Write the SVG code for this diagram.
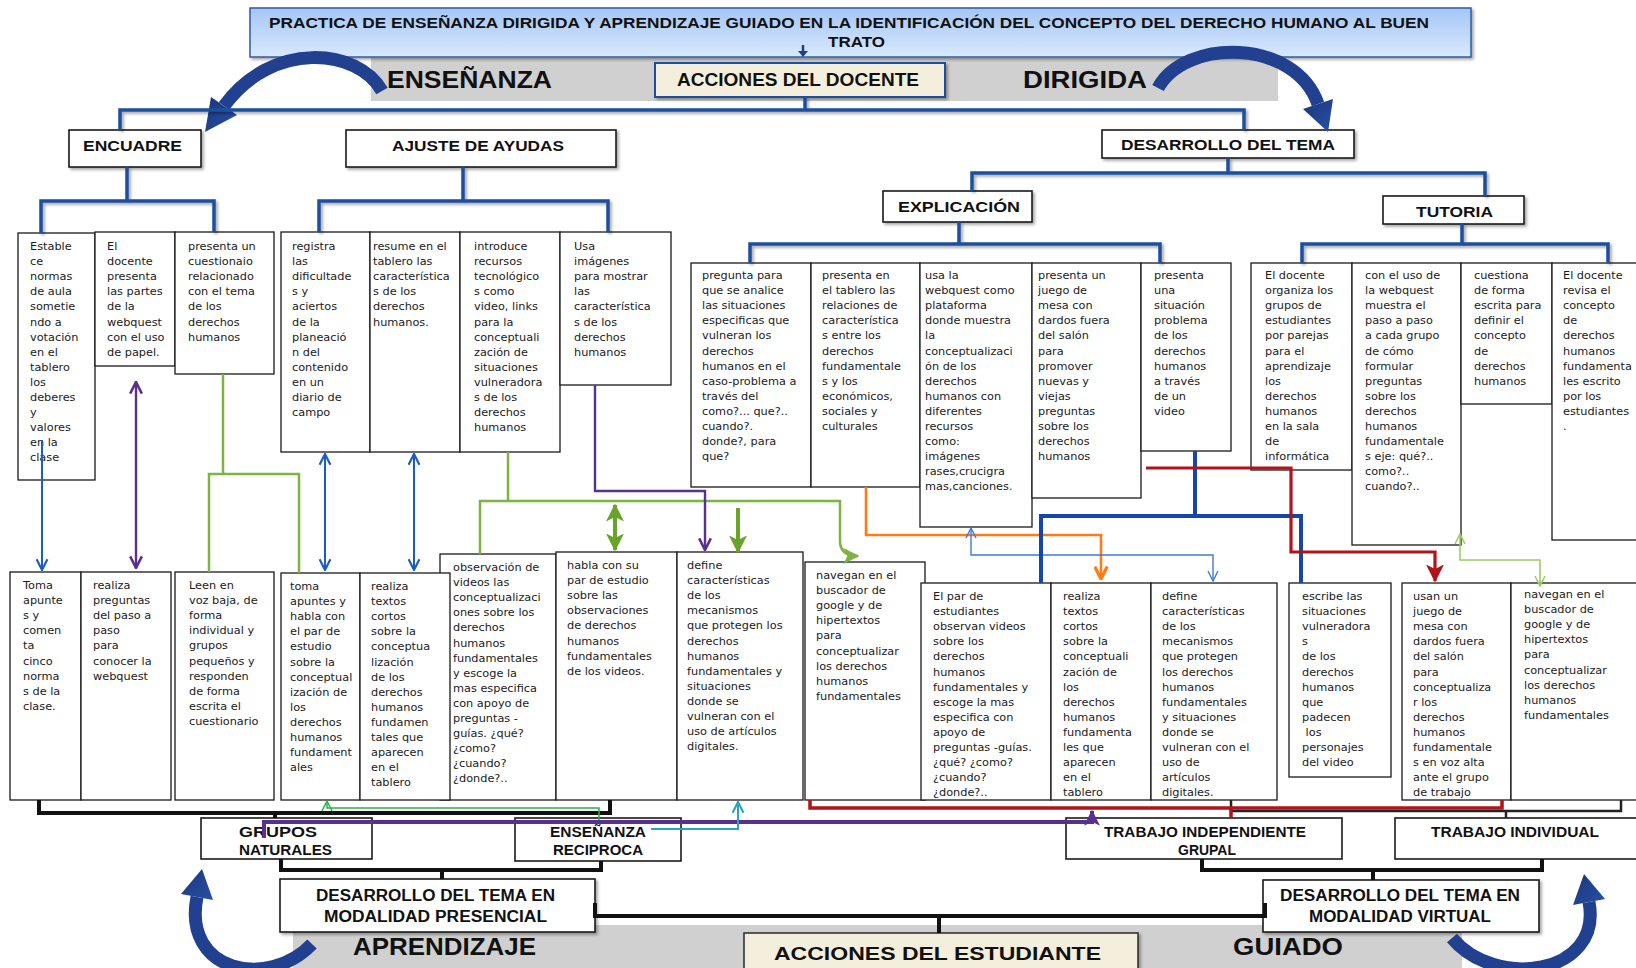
<svg xmlns="http://www.w3.org/2000/svg" width="1636" height="968" viewBox="0 0 1636 968">
<style>
.box{fill:#fff;stroke:#1a1a1a;stroke-width:1.3}
.hb{fill:#fff;stroke:#1a1a1a;stroke-width:1.6}
.t{font-family:"DejaVu Sans",Verdana,sans-serif;font-size:11.3px;fill:#1a1a1a}
.h{font-family:"Liberation Sans",Arial,sans-serif;font-weight:bold;fill:#111}
.tree{fill:none;stroke:#1d4f9e;stroke-width:3.5}
.blk{fill:none;stroke:#111;stroke-width:4}
.c{fill:none}
</style>
<defs>
<linearGradient id="tg" x1="0" y1="0" x2="0" y2="1"><stop offset="0" stop-color="#a4c6f6"/><stop offset="1" stop-color="#d9e9fd"/></linearGradient>
<linearGradient id="ag" x1="0" y1="0" x2="1" y2="1"><stop offset="0" stop-color="#1b3679"/><stop offset="1" stop-color="#2750a8"/></linearGradient>
<filter id="sh" x="-5%" y="-20%" width="110%" height="150%"><feDropShadow dx="2" dy="2" stdDeviation="1.5" flood-color="#000" flood-opacity="0.35"/></filter>
<marker id="aB" viewBox="0 0 12 12" refX="11" refY="6" markerWidth="13" markerHeight="13" markerUnits="userSpaceOnUse" orient="auto-start-reverse"><path d="M1,1 L11,6 L1,11" fill="none" stroke="#1c5dc4" stroke-width="2"/></marker>
<marker id="aP" viewBox="0 0 12 12" refX="11" refY="6" markerWidth="14" markerHeight="14" markerUnits="userSpaceOnUse" orient="auto-start-reverse"><path d="M1,1 L11,6 L1,11" fill="none" stroke="#58318f" stroke-width="2.2"/></marker>
<marker id="aG" viewBox="0 0 12 12" refX="11" refY="6" markerWidth="18" markerHeight="18" markerUnits="userSpaceOnUse" orient="auto-start-reverse"><path d="M0,0 L12,6 L0,12 L3,6 z" fill="#6aa329"/></marker>
<marker id="aG2" viewBox="0 0 12 12" refX="11" refY="6" markerWidth="16" markerHeight="16" markerUnits="userSpaceOnUse" orient="auto"><path d="M0,0 L12,6 L0,12 L3,6 z" fill="#7cb342"/></marker>
<marker id="aO" viewBox="0 0 12 12" refX="11" refY="6" markerWidth="15" markerHeight="15" markerUnits="userSpaceOnUse" orient="auto"><path d="M1,1 L11,6 L1,11" fill="none" stroke="#ff7b18" stroke-width="2.6"/></marker>
<marker id="aT" viewBox="0 0 12 12" refX="11" refY="6" markerWidth="12" markerHeight="12" markerUnits="userSpaceOnUse" orient="auto-start-reverse"><path d="M1,1 L11,6 L1,11" fill="none" stroke="#3d7bd8" stroke-width="1.4"/></marker>
<marker id="aR" viewBox="0 0 12 12" refX="11" refY="6" markerWidth="18" markerHeight="18" markerUnits="userSpaceOnUse" orient="auto"><path d="M0,0 L12,6 L0,12 L3,6 z" fill="#b0141a"/></marker>
<marker id="aL" viewBox="0 0 12 12" refX="11" refY="6" markerWidth="12" markerHeight="12" markerUnits="userSpaceOnUse" orient="auto-start-reverse"><path d="M1,1 L11,6 L1,11" fill="none" stroke="#9ccc65" stroke-width="1.5"/></marker>
<marker id="aC" viewBox="0 0 12 12" refX="11" refY="6" markerWidth="13" markerHeight="13" markerUnits="userSpaceOnUse" orient="auto"><path d="M1,1 L11,6 L1,11" fill="none" stroke="#29a3c9" stroke-width="2"/></marker>
<marker id="aGt" viewBox="0 0 12 12" refX="11" refY="6" markerWidth="12" markerHeight="12" markerUnits="userSpaceOnUse" orient="auto"><path d="M1,1 L11,6 L1,11" fill="none" stroke="#2eb04a" stroke-width="1.5"/></marker>
<marker id="aPf" viewBox="0 0 12 12" refX="11" refY="6" markerWidth="16" markerHeight="16" markerUnits="userSpaceOnUse" orient="auto"><path d="M0,0 L12,6 L0,12 L3,6 z" fill="#58318f"/></marker>
</defs>

<!-- background bands -->
<g id="bands">
<rect x="371" y="58" width="907" height="43" fill="#d0d0d0"/>
<rect x="293" y="925" width="1169" height="43" fill="#d0d0d0"/>
</g>

<g id="title">
<rect x="250" y="8" width="1221" height="49" fill="url(#tg)" stroke="#2e5c9e" stroke-width="1.5" filter="url(#sh)"/>
<text class="h" x="269" y="28" font-size="14.5" textLength="1160" lengthAdjust="spacingAndGlyphs">PRACTICA DE  ENSEÑANZA DIRIGIDA  Y  APRENDIZAJE  GUIADO EN LA IDENTIFICACIÓN  DEL CONCEPTO DEL DERECHO HUMANO AL BUEN</text>
<text class="h" x="828" y="47" font-size="14.5" textLength="57" lengthAdjust="spacingAndGlyphs">TRATO</text>
</g>

<g id="band-labels">
<text class="h" x="387" y="88" font-size="23" textLength="165" lengthAdjust="spacingAndGlyphs">ENSEÑANZA</text>
<text class="h" x="1023" y="88" font-size="23" textLength="124" lengthAdjust="spacingAndGlyphs">DIRIGIDA</text>
<text class="h" x="353" y="955" font-size="23" textLength="183" lengthAdjust="spacingAndGlyphs">APRENDIZAJE</text>
<text class="h" x="1233" y="955" font-size="23" textLength="110" lengthAdjust="spacingAndGlyphs">GUIADO</text>
</g>

<g id="acciones-docente">
<rect x="655" y="63" width="290" height="34" fill="#f3efdc" stroke="#1f4fa0" stroke-width="2" filter="url(#sh)"/>
<text class="h" x="677" y="86" font-size="18" textLength="242" lengthAdjust="spacingAndGlyphs">ACCIONES DEL  DOCENTE</text>
</g>
<g id="acciones-estudiante">
<rect x="744" y="933" width="394" height="42" fill="#f3efdc" stroke="#333" stroke-width="1.6" filter="url(#sh)"/>
<text class="h" x="774" y="960" font-size="19" textLength="327" lengthAdjust="spacingAndGlyphs">ACCIONES DEL  ESTUDIANTE</text>
</g>

<!-- header nodes -->
<g id="encuadre"><rect class="hb" x="69" y="130" width="132" height="37" filter="url(#sh)"/><text class="h" x="83" y="151" font-size="15" textLength="99" lengthAdjust="spacingAndGlyphs">ENCUADRE</text></g>
<g id="ajuste"><rect class="hb" x="346" y="130" width="270" height="37" filter="url(#sh)"/><text class="h" x="392" y="151" font-size="15" textLength="172" lengthAdjust="spacingAndGlyphs">AJUSTE DE AYUDAS</text></g>
<g id="desarrollo"><rect class="hb" x="1102" y="130" width="252" height="28" filter="url(#sh)"/><text class="h" x="1121" y="150" font-size="15" textLength="214" lengthAdjust="spacingAndGlyphs">DESARROLLO DEL TEMA</text></g>
<g id="explicacion"><rect class="hb" x="883" y="191" width="149" height="31" filter="url(#sh)"/><text class="h" x="898" y="212" font-size="15" textLength="122" lengthAdjust="spacingAndGlyphs">EXPLICACIÓN</text></g>
<g id="tutoria"><rect class="hb" x="1383" y="196" width="141" height="28" filter="url(#sh)"/><text class="h" x="1416" y="217" font-size="15" textLength="77" lengthAdjust="spacingAndGlyphs">TUTORIA</text></g>

<!-- row 1 -->
<g id="a1"><rect class="box" x="18" y="233" width="77" height="247"/><text class="t" y="250"><tspan x="30">Estable</tspan><tspan x="30" dy="15.1">ce</tspan><tspan x="30" dy="15.1">normas</tspan><tspan x="30" dy="15.1">de aula</tspan><tspan x="30" dy="15.1">sometie</tspan><tspan x="30" dy="15.1">ndo a</tspan><tspan x="30" dy="15.1">votación</tspan><tspan x="30" dy="15.1">en el</tspan><tspan x="30" dy="15.1">tablero</tspan><tspan x="30" dy="15.1">los</tspan><tspan x="30" dy="15.1">deberes</tspan><tspan x="30" dy="15.1">y</tspan><tspan x="30" dy="15.1">valores</tspan><tspan x="30" dy="15.1">en la</tspan><tspan x="30" dy="15.1">clase</tspan></text></g>
<g id="a2"><rect class="box" x="95" y="232" width="80" height="134"/><text class="t" y="250"><tspan x="107">El</tspan><tspan x="107" dy="15.1">docente</tspan><tspan x="107" dy="15.1">presenta</tspan><tspan x="107" dy="15.1">las partes</tspan><tspan x="107" dy="15.1">de la</tspan><tspan x="107" dy="15.1">webquest</tspan><tspan x="107" dy="15.1">con el uso</tspan><tspan x="107" dy="15.1">de papel.</tspan></text></g>
<g id="a3"><rect class="box" x="175" y="232" width="99" height="142"/><text class="t" y="250"><tspan x="188">presenta un</tspan><tspan x="188" dy="15.1">cuestionaio</tspan><tspan x="188" dy="15.1">relacionado</tspan><tspan x="188" dy="15.1">con el tema</tspan><tspan x="188" dy="15.1">de  los</tspan><tspan x="188" dy="15.1">derechos</tspan><tspan x="188" dy="15.1">humanos</tspan></text></g>
<g id="b1"><rect class="box" x="281" y="232" width="89" height="220"/><text class="t" y="250"><tspan x="292">registra</tspan><tspan x="292" dy="15.1">las</tspan><tspan x="292" dy="15.1">dificultade</tspan><tspan x="292" dy="15.1">s y</tspan><tspan x="292" dy="15.1">aciertos</tspan><tspan x="292" dy="15.1">de la</tspan><tspan x="292" dy="15.1">planeació</tspan><tspan x="292" dy="15.1">n  del</tspan><tspan x="292" dy="15.1">contenido</tspan><tspan x="292" dy="15.1">en un</tspan><tspan x="292" dy="15.1">diario de</tspan><tspan x="292" dy="15.1">campo</tspan></text></g>
<g id="b2"><rect class="box" x="370" y="232" width="90" height="220"/><text class="t" y="250"><tspan x="373">resume en el</tspan><tspan x="373" dy="15.1">tablero las</tspan><tspan x="373" dy="15.1">característica</tspan><tspan x="373" dy="15.1">s de los</tspan><tspan x="373" dy="15.1">derechos</tspan><tspan x="373" dy="15.1">humanos.</tspan></text></g>
<g id="b3"><rect class="box" x="460" y="232" width="100" height="220"/><text class="t" y="250"><tspan x="474">introduce</tspan><tspan x="474" dy="15.1">recursos</tspan><tspan x="474" dy="15.1">tecnológico</tspan><tspan x="474" dy="15.1">s como</tspan><tspan x="474" dy="15.1">video, links</tspan><tspan x="474" dy="15.1">para la</tspan><tspan x="474" dy="15.1">conceptuali</tspan><tspan x="474" dy="15.1">zación de</tspan><tspan x="474" dy="15.1">situaciones</tspan><tspan x="474" dy="15.1">vulneradora</tspan><tspan x="474" dy="15.1">s de los</tspan><tspan x="474" dy="15.1">derechos</tspan><tspan x="474" dy="15.1">humanos</tspan></text></g>
<g id="b4"><rect class="box" x="560" y="232" width="111" height="153"/><text class="t" y="250"><tspan x="574">Usa</tspan><tspan x="574" dy="15.1">imágenes</tspan><tspan x="574" dy="15.1">para mostrar</tspan><tspan x="574" dy="15.1">las</tspan><tspan x="574" dy="15.1">característica</tspan><tspan x="574" dy="15.1">s  de los</tspan><tspan x="574" dy="15.1">derechos</tspan><tspan x="574" dy="15.1">humanos</tspan></text></g>

<g id="c1"><rect class="box" x="691" y="263" width="120" height="224"/><text class="t" y="279"><tspan x="702">pregunta para</tspan><tspan x="702" dy="15.1">que se analice</tspan><tspan x="702" dy="15.1">las situaciones</tspan><tspan x="702" dy="15.1">especificas que</tspan><tspan x="702" dy="15.1">vulneran los</tspan><tspan x="702" dy="15.1">derechos</tspan><tspan x="702" dy="15.1">humanos en  el</tspan><tspan x="702" dy="15.1">caso-problema a</tspan><tspan x="702" dy="15.1">través del</tspan><tspan x="702" dy="15.1">como?... que?..</tspan><tspan x="702" dy="15.1">cuando?.</tspan><tspan x="702" dy="15.1">donde?, para</tspan><tspan x="702" dy="15.1">que?</tspan></text></g>
<g id="c2"><rect class="box" x="811" y="263" width="109" height="224"/><text class="t" y="279"><tspan x="822">presenta en</tspan><tspan x="822" dy="15.1">el tablero las</tspan><tspan x="822" dy="15.1">relaciones de</tspan><tspan x="822" dy="15.1">característica</tspan><tspan x="822" dy="15.1">s entre  los</tspan><tspan x="822" dy="15.1">derechos</tspan><tspan x="822" dy="15.1">fundamentale</tspan><tspan x="822" dy="15.1">s  y los</tspan><tspan x="822" dy="15.1">económicos,</tspan><tspan x="822" dy="15.1">sociales y</tspan><tspan x="822" dy="15.1">culturales</tspan></text></g>
<g id="c3"><rect class="box" x="920" y="263" width="112" height="264"/><text class="t" y="279"><tspan x="925">usa la</tspan><tspan x="925" dy="15.1">webquest como</tspan><tspan x="925" dy="15.1">plataforma</tspan><tspan x="925" dy="15.1">donde muestra</tspan><tspan x="925" dy="15.1">la</tspan><tspan x="925" dy="15.1">conceptualizaci</tspan><tspan x="925" dy="15.1">ón de los</tspan><tspan x="925" dy="15.1">derechos</tspan><tspan x="925" dy="15.1">humanos con</tspan><tspan x="925" dy="15.1">diferentes</tspan><tspan x="925" dy="15.1">recursos</tspan><tspan x="925" dy="15.1">como:</tspan><tspan x="925" dy="15.1">imágenes</tspan><tspan x="925" dy="15.1">rases,crucigra</tspan><tspan x="925" dy="15.1">mas,canciones.</tspan></text></g>
<g id="c4"><rect class="box" x="1032" y="263" width="109" height="235"/><text class="t" y="279"><tspan x="1038">presenta un</tspan><tspan x="1038" dy="15.1">juego  de</tspan><tspan x="1038" dy="15.1">mesa con</tspan><tspan x="1038" dy="15.1">dardos fuera</tspan><tspan x="1038" dy="15.1">del salón</tspan><tspan x="1038" dy="15.1">para</tspan><tspan x="1038" dy="15.1">promover</tspan><tspan x="1038" dy="15.1">nuevas y</tspan><tspan x="1038" dy="15.1">viejas</tspan><tspan x="1038" dy="15.1">preguntas</tspan><tspan x="1038" dy="15.1">sobre  los</tspan><tspan x="1038" dy="15.1">derechos</tspan><tspan x="1038" dy="15.1">humanos</tspan></text></g>
<g id="c5"><rect class="box" x="1141" y="263" width="90" height="188"/><text class="t" y="279"><tspan x="1154">presenta</tspan><tspan x="1154" dy="15.1">una</tspan><tspan x="1154" dy="15.1">situación</tspan><tspan x="1154" dy="15.1">problema</tspan><tspan x="1154" dy="15.1">de los</tspan><tspan x="1154" dy="15.1">derechos</tspan><tspan x="1154" dy="15.1">humanos</tspan><tspan x="1154" dy="15.1">a través</tspan><tspan x="1154" dy="15.1">de un</tspan><tspan x="1154" dy="15.1">video</tspan></text></g>
<g id="d1"><rect class="box" x="1251" y="263" width="101" height="207"/><text class="t" y="279"><tspan x="1265">El  docente</tspan><tspan x="1265" dy="15.1">organiza los</tspan><tspan x="1265" dy="15.1">grupos de</tspan><tspan x="1265" dy="15.1">estudiantes</tspan><tspan x="1265" dy="15.1">por parejas</tspan><tspan x="1265" dy="15.1">para el</tspan><tspan x="1265" dy="15.1">aprendizaje</tspan><tspan x="1265" dy="15.1">los</tspan><tspan x="1265" dy="15.1">derechos</tspan><tspan x="1265" dy="15.1">humanos</tspan><tspan x="1265" dy="15.1">en la sala</tspan><tspan x="1265" dy="15.1">de</tspan><tspan x="1265" dy="15.1">informática</tspan></text></g>
<g id="d2"><rect class="box" x="1352" y="263" width="109" height="282"/><text class="t" y="279"><tspan x="1365">con el uso de</tspan><tspan x="1365" dy="15.1">la webquest</tspan><tspan x="1365" dy="15.1">muestra el</tspan><tspan x="1365" dy="15.1">paso a paso</tspan><tspan x="1365" dy="15.1">a cada grupo</tspan><tspan x="1365" dy="15.1">de cómo</tspan><tspan x="1365" dy="15.1">formular</tspan><tspan x="1365" dy="15.1">preguntas</tspan><tspan x="1365" dy="15.1">sobre los</tspan><tspan x="1365" dy="15.1">derechos</tspan><tspan x="1365" dy="15.1">humanos</tspan><tspan x="1365" dy="15.1">fundamentale</tspan><tspan x="1365" dy="15.1">s eje: qué?..</tspan><tspan x="1365" dy="15.1">como?..</tspan><tspan x="1365" dy="15.1">cuando?..</tspan></text></g>
<g id="d3"><rect class="box" x="1461" y="263" width="91" height="141"/><text class="t" y="279"><tspan x="1474">cuestiona</tspan><tspan x="1474" dy="15.1">de forma</tspan><tspan x="1474" dy="15.1">escrita para</tspan><tspan x="1474" dy="15.1">definir el</tspan><tspan x="1474" dy="15.1">concepto</tspan><tspan x="1474" dy="15.1">de</tspan><tspan x="1474" dy="15.1">derechos</tspan><tspan x="1474" dy="15.1">humanos</tspan></text></g>
<g id="d4"><rect class="box" x="1552" y="263" width="90" height="277"/><text class="t" y="279"><tspan x="1563">El  docente</tspan><tspan x="1563" dy="15.1">revisa  el</tspan><tspan x="1563" dy="15.1">concepto</tspan><tspan x="1563" dy="15.1">de</tspan><tspan x="1563" dy="15.1">derechos</tspan><tspan x="1563" dy="15.1">humanos</tspan><tspan x="1563" dy="15.1">fundamenta</tspan><tspan x="1563" dy="15.1">les escrito</tspan><tspan x="1563" dy="15.1">por los</tspan><tspan x="1563" dy="15.1">estudiantes</tspan><tspan x="1563" dy="15.1">.</tspan></text></g>

<!-- row 2 -->
<g id="e1"><rect class="box" x="10" y="572" width="71" height="228"/><text class="t" y="589"><tspan x="23">Toma</tspan><tspan x="23" dy="15.1">apunte</tspan><tspan x="23" dy="15.1">s y</tspan><tspan x="23" dy="15.1">comen</tspan><tspan x="23" dy="15.1">ta</tspan><tspan x="23" dy="15.1">cinco</tspan><tspan x="23" dy="15.1">norma</tspan><tspan x="23" dy="15.1">s de la</tspan><tspan x="23" dy="15.1">clase.</tspan></text></g>
<g id="e2"><rect class="box" x="81" y="572" width="90" height="228"/><text class="t" y="589"><tspan x="93">realiza</tspan><tspan x="93" dy="15.1">preguntas</tspan><tspan x="93" dy="15.1">del paso a</tspan><tspan x="93" dy="15.1">paso</tspan><tspan x="93" dy="15.1">para</tspan><tspan x="93" dy="15.1">conocer la</tspan><tspan x="93" dy="15.1">webquest</tspan></text></g>
<g id="e3"><rect class="box" x="175" y="572" width="99" height="228"/><text class="t" y="589"><tspan x="189">Leen en</tspan><tspan x="189" dy="15.1">voz baja, de</tspan><tspan x="189" dy="15.1">forma</tspan><tspan x="189" dy="15.1">individual y</tspan><tspan x="189" dy="15.1">grupos</tspan><tspan x="189" dy="15.1">pequeños y</tspan><tspan x="189" dy="15.1">responden</tspan><tspan x="189" dy="15.1">de forma</tspan><tspan x="189" dy="15.1">escrita el</tspan><tspan x="189" dy="15.1">cuestionario</tspan></text></g>
<g id="e4"><rect class="box" x="281" y="573" width="79" height="227"/><text class="t" y="590"><tspan x="290">toma</tspan><tspan x="290" dy="15.1">apuntes y</tspan><tspan x="290" dy="15.1">habla con</tspan><tspan x="290" dy="15.1">el par de</tspan><tspan x="290" dy="15.1">estudio</tspan><tspan x="290" dy="15.1">sobre la</tspan><tspan x="290" dy="15.1">conceptual</tspan><tspan x="290" dy="15.1">ización  de</tspan><tspan x="290" dy="15.1">los</tspan><tspan x="290" dy="15.1">derechos</tspan><tspan x="290" dy="15.1">humanos</tspan><tspan x="290" dy="15.1">fundament</tspan><tspan x="290" dy="15.1">ales</tspan></text></g>
<g id="e6"><rect class="box" x="440" y="554" width="116" height="246"/><text class="t" y="571"><tspan x="453">observación de</tspan><tspan x="453" dy="15.1">videos las</tspan><tspan x="453" dy="15.1">conceptualizaci</tspan><tspan x="453" dy="15.1">ones sobre  los</tspan><tspan x="453" dy="15.1">derechos</tspan><tspan x="453" dy="15.1">humanos</tspan><tspan x="453" dy="15.1">fundamentales</tspan><tspan x="453" dy="15.1">y escoge la</tspan><tspan x="453" dy="15.1">mas  especifica</tspan><tspan x="453" dy="15.1">con  apoyo de</tspan><tspan x="453" dy="15.1">preguntas -</tspan><tspan x="453" dy="15.1">guías. ¿qué?</tspan><tspan x="453" dy="15.1">¿como?</tspan><tspan x="453" dy="15.1">¿cuando?</tspan><tspan x="453" dy="15.1">¿donde?..</tspan></text></g>
<g id="e5"><rect class="box" x="360" y="573" width="90" height="227"/><text class="t" y="590"><tspan x="371">realiza</tspan><tspan x="371" dy="15.1">textos</tspan><tspan x="371" dy="15.1">cortos</tspan><tspan x="371" dy="15.1">sobre la</tspan><tspan x="371" dy="15.1">conceptua</tspan><tspan x="371" dy="15.1">lización</tspan><tspan x="371" dy="15.1">de los</tspan><tspan x="371" dy="15.1">derechos</tspan><tspan x="371" dy="15.1">humanos</tspan><tspan x="371" dy="15.1">fundamen</tspan><tspan x="371" dy="15.1">tales que</tspan><tspan x="371" dy="15.1">aparecen</tspan><tspan x="371" dy="15.1">en el</tspan><tspan x="371" dy="15.1">tablero</tspan></text></g>
<g id="e7"><rect class="box" x="556" y="552" width="121" height="248"/><text class="t" y="569"><tspan x="567">habla con su</tspan><tspan x="567" dy="15.1">par de estudio</tspan><tspan x="567" dy="15.1">sobre  las</tspan><tspan x="567" dy="15.1">observaciones</tspan><tspan x="567" dy="15.1">de derechos</tspan><tspan x="567" dy="15.1">humanos</tspan><tspan x="567" dy="15.1">fundamentales</tspan><tspan x="567" dy="15.1">de los videos.</tspan></text></g>
<g id="e8"><rect class="box" x="677" y="552" width="126" height="248"/><text class="t" y="569"><tspan x="687">define</tspan><tspan x="687" dy="15.1">características</tspan><tspan x="687" dy="15.1">de los</tspan><tspan x="687" dy="15.1">mecanismos</tspan><tspan x="687" dy="15.1">que protegen los</tspan><tspan x="687" dy="15.1">derechos</tspan><tspan x="687" dy="15.1">humanos</tspan><tspan x="687" dy="15.1">fundamentales y</tspan><tspan x="687" dy="15.1">situaciones</tspan><tspan x="687" dy="15.1">donde se</tspan><tspan x="687" dy="15.1">vulneran con el</tspan><tspan x="687" dy="15.1">uso de  artículos</tspan><tspan x="687" dy="15.1">digitales.</tspan></text></g>
<g id="e9"><rect class="box" x="805" y="562" width="120" height="238"/><text class="t" y="579"><tspan x="816">navegan en el</tspan><tspan x="816" dy="15.1">buscador de</tspan><tspan x="816" dy="15.1">google y de</tspan><tspan x="816" dy="15.1">hipertextos</tspan><tspan x="816" dy="15.1">para</tspan><tspan x="816" dy="15.1">conceptualizar</tspan><tspan x="816" dy="15.1">los derechos</tspan><tspan x="816" dy="15.1">humanos</tspan><tspan x="816" dy="15.1">fundamentales</tspan></text></g>
<g id="f1"><rect class="box" x="921" y="583" width="130" height="217"/><text class="t" y="600"><tspan x="933">El  par de</tspan><tspan x="933" dy="15.1">estudiantes</tspan><tspan x="933" dy="15.1">observan  videos</tspan><tspan x="933" dy="15.1">sobre  los</tspan><tspan x="933" dy="15.1">derechos</tspan><tspan x="933" dy="15.1">humanos</tspan><tspan x="933" dy="15.1">fundamentales  y</tspan><tspan x="933" dy="15.1">escoge la mas</tspan><tspan x="933" dy="15.1">especifica con</tspan><tspan x="933" dy="15.1">apoyo de</tspan><tspan x="933" dy="15.1">preguntas -guías.</tspan><tspan x="933" dy="15.1">¿qué?  ¿como?</tspan><tspan x="933" dy="15.1">¿cuando?</tspan><tspan x="933" dy="15.1">¿donde?..</tspan></text></g>
<g id="f2"><rect class="box" x="1051" y="583" width="100" height="217"/><text class="t" y="600"><tspan x="1063">realiza</tspan><tspan x="1063" dy="15.1">textos</tspan><tspan x="1063" dy="15.1">cortos</tspan><tspan x="1063" dy="15.1">sobre la</tspan><tspan x="1063" dy="15.1">conceptuali</tspan><tspan x="1063" dy="15.1">zación de</tspan><tspan x="1063" dy="15.1">los</tspan><tspan x="1063" dy="15.1">derechos</tspan><tspan x="1063" dy="15.1">humanos</tspan><tspan x="1063" dy="15.1">fundamenta</tspan><tspan x="1063" dy="15.1">les que</tspan><tspan x="1063" dy="15.1">aparecen</tspan><tspan x="1063" dy="15.1">en el</tspan><tspan x="1063" dy="15.1">tablero</tspan></text></g>
<g id="f3"><rect class="box" x="1151" y="583" width="126" height="217"/><text class="t" y="600"><tspan x="1162">define</tspan><tspan x="1162" dy="15.1">características</tspan><tspan x="1162" dy="15.1">de los</tspan><tspan x="1162" dy="15.1">mecanismos</tspan><tspan x="1162" dy="15.1">que protegen</tspan><tspan x="1162" dy="15.1">los derechos</tspan><tspan x="1162" dy="15.1">humanos</tspan><tspan x="1162" dy="15.1">fundamentales</tspan><tspan x="1162" dy="15.1">y situaciones</tspan><tspan x="1162" dy="15.1">donde se</tspan><tspan x="1162" dy="15.1">vulneran con el</tspan><tspan x="1162" dy="15.1">uso de</tspan><tspan x="1162" dy="15.1">artículos</tspan><tspan x="1162" dy="15.1">digitales.</tspan></text></g>
<g id="f4"><rect class="box" x="1289" y="583" width="102" height="194"/><text class="t" y="600"><tspan x="1302">escribe las</tspan><tspan x="1302" dy="15.1">situaciones</tspan><tspan x="1302" dy="15.1">vulneradora</tspan><tspan x="1302" dy="15.1">s</tspan><tspan x="1302" dy="15.1">de los</tspan><tspan x="1302" dy="15.1">derechos</tspan><tspan x="1302" dy="15.1">humanos</tspan><tspan x="1302" dy="15.1">que</tspan><tspan x="1302" dy="15.1">padecen</tspan><tspan x="1302" dy="15.1"> los</tspan><tspan x="1302" dy="15.1">personajes</tspan><tspan x="1302" dy="15.1">del video</tspan></text></g>
<g id="f5"><rect class="box" x="1402" y="583" width="109" height="217"/><text class="t" y="600"><tspan x="1413">usan un</tspan><tspan x="1413" dy="15.1">juego de</tspan><tspan x="1413" dy="15.1">mesa con</tspan><tspan x="1413" dy="15.1">dardos fuera</tspan><tspan x="1413" dy="15.1">del salón</tspan><tspan x="1413" dy="15.1">para</tspan><tspan x="1413" dy="15.1">conceptualiza</tspan><tspan x="1413" dy="15.1">r los</tspan><tspan x="1413" dy="15.1">derechos</tspan><tspan x="1413" dy="15.1">humanos</tspan><tspan x="1413" dy="15.1">fundamentale</tspan><tspan x="1413" dy="15.1">s  en voz alta</tspan><tspan x="1413" dy="15.1">ante el grupo</tspan><tspan x="1413" dy="15.1">de trabajo</tspan></text></g>
<g id="f6"><rect class="box" x="1511" y="583" width="130" height="217"/><text class="t" y="598"><tspan x="1524">navegan en el</tspan><tspan x="1524" dy="15.1">buscador  de</tspan><tspan x="1524" dy="15.1">google  y de</tspan><tspan x="1524" dy="15.1">hipertextos</tspan><tspan x="1524" dy="15.1">para</tspan><tspan x="1524" dy="15.1">conceptualizar</tspan><tspan x="1524" dy="15.1">los  derechos</tspan><tspan x="1524" dy="15.1">humanos</tspan><tspan x="1524" dy="15.1">fundamentales</tspan></text></g>

<!-- bottom nodes -->
<g id="grupos"><rect class="hb" x="201" y="818" width="171" height="41"/><text class="h" x="239" y="837" font-size="14" textLength="78" lengthAdjust="spacingAndGlyphs">GRUPOS</text><text class="h" x="239" y="855" font-size="14" textLength="93" lengthAdjust="spacingAndGlyphs">NATURALES</text></g>
<g id="reciproca"><rect class="hb" x="515" y="818" width="166" height="43"/><text class="h" x="550" y="837" font-size="14" textLength="96" lengthAdjust="spacingAndGlyphs">ENSEÑANZA</text><text class="h" x="553" y="855" font-size="14" textLength="90" lengthAdjust="spacingAndGlyphs">RECIPROCA</text></g>
<g id="independiente"><rect class="hb" x="1066" y="818" width="276" height="41"/><text class="h" x="1104" y="837" font-size="14" textLength="202" lengthAdjust="spacingAndGlyphs">TRABAJO INDEPENDIENTE</text><text class="h" x="1178" y="855" font-size="14" textLength="58" lengthAdjust="spacingAndGlyphs">GRUPAL</text></g>
<g id="individual"><rect class="hb" x="1395" y="818" width="245" height="41"/><text class="h" x="1431" y="837" font-size="14" textLength="168" lengthAdjust="spacingAndGlyphs">TRABAJO INDIVIDUAL</text></g>
<g id="presencial"><rect class="hb" x="280" y="879" width="315" height="53" filter="url(#sh)"/><text class="h" x="316" y="901" font-size="16" textLength="239" lengthAdjust="spacingAndGlyphs">DESARROLLO DEL TEMA EN</text><text class="h" x="324" y="922" font-size="16" textLength="223" lengthAdjust="spacingAndGlyphs">MODALIDAD PRESENCIAL</text></g>
<g id="virtual"><rect class="hb" x="1263" y="880" width="276" height="52" filter="url(#sh)"/><text class="h" x="1280" y="901" font-size="16" textLength="240" lengthAdjust="spacingAndGlyphs">DESARROLLO DEL TEMA EN</text><text class="h" x="1309" y="922" font-size="16" textLength="182" lengthAdjust="spacingAndGlyphs">MODALIDAD VIRTUAL</text></g>

<!-- big curved arrows -->
<g id="big-arrows" fill="url(#ag)">
<path d="M 382 91 C 358 48, 272 40, 224 106" fill="none" stroke="#21408f" stroke-width="13"/>
<polygon points="237,115 211,97 205,132"/>
<path d="M 1158 88 C 1185 38, 1295 38, 1318 104" fill="none" stroke="#21408f" stroke-width="13"/>
<polygon points="1333,99 1303,109 1328,132"/>
<path d="M 312 944 C 268 990, 182 972, 197 897" fill="none" stroke="#21408f" stroke-width="13"/>
<polygon points="213,900 181,894 202,869"/>
<path d="M 1452 938 C 1495 990, 1603 975, 1589 902" fill="none" stroke="#21408f" stroke-width="13"/>
<polygon points="1605,899 1573,905 1584,874"/>
</g>

<g id="connectors">
<g filter="url(#sh)">
<path class="tree" d="M 805 97 V 110 M 120 130 V 110 H 1244 V 130"/>
<path class="tree" d="M 127 167 V 201 M 41 233 V 201 H 214 V 232"/>
<path class="tree" d="M 463 167 V 201 M 319 232 V 201 H 608 V 232"/>
<path class="tree" d="M 1228 158 V 173 M 972 191 V 173 H 1485 V 196"/>
<path class="tree" d="M 959 222 V 244 M 750 263 V 244 H 1160 V 263"/>
<path class="tree" d="M 1462 224 V 244 M 1302 263 V 244 H 1608 V 263"/>
</g>
<path d="M 803 45 V 52" stroke="#1d3f8a" stroke-width="2.5"/>
<polygon points="798,51 808,51 803,57" fill="#1d3f8a"/>

<path class="c" d="M 42 440 V 570" stroke="#1c5dc4" stroke-width="2" marker-end="url(#aB)"/>
<path class="c" d="M 136 382 V 568" stroke="#58318f" stroke-width="2.4" marker-start="url(#aP)" marker-end="url(#aP)"/>
<path class="c" d="M 223 374 V 474 M 209 572 V 474 H 299 V 573" stroke="#7cb342" stroke-width="2.5"/>
<path class="c" d="M 325 454 V 570" stroke="#1c5dc4" stroke-width="2" marker-start="url(#aB)" marker-end="url(#aB)"/>
<path class="c" d="M 414 454 V 570" stroke="#1c5dc4" stroke-width="2" marker-start="url(#aB)" marker-end="url(#aB)"/>
<path class="c" d="M 508 452 V 501" stroke="#7cb342" stroke-width="2.5"/>
<path class="c" d="M 480 554 V 501 H 840 V 541 Q 840 556 858 556" stroke="#7cb342" stroke-width="2.5" marker-end="url(#aG2)"/>
<path class="c" d="M 615 505 V 550" stroke="#6aa329" stroke-width="4" marker-start="url(#aG)" marker-end="url(#aG)"/>
<path class="c" d="M 738 508 V 552" stroke="#6aa329" stroke-width="4" marker-end="url(#aG)"/>
<path class="c" d="M 595 385 V 491 H 705 V 550" stroke="#58318f" stroke-width="2.4" marker-end="url(#aP)"/>
<path class="c" d="M 866 487 V 535 H 1101 V 579" stroke="#ff7b18" stroke-width="2.6" marker-end="url(#aO)"/>
<path class="c" d="M 971 528 V 555 H 1213 V 581" stroke="#3d7bd8" stroke-width="1.4" marker-start="url(#aT)" marker-end="url(#aT)"/>
<path class="c" d="M 1195 451 V 516 M 1041 583 V 516 H 1301 V 583" stroke="#1747a6" stroke-width="4"/>
<path class="c" d="M 1146 468 H 1291 V 552 H 1435 V 581" stroke="#b0141a" stroke-width="3.2" marker-end="url(#aR)"/>
<path class="c" d="M 1460 534 V 560 H 1540 V 586" stroke="#9ccc65" stroke-width="1.6" marker-start="url(#aL)" marker-end="url(#aL)"/>

<path class="blk" d="M 39 800 V 813 H 610 V 800 M 275 813 V 818"/>
<path class="c" d="M 599 822 V 808 H 327 V 801" stroke="#2eb04a" stroke-width="1.5" marker-end="url(#aGt)"/>
<path class="c" d="M 264 838 V 822 H 1092 V 811" stroke="#58318f" stroke-width="4" marker-end="url(#aPf)"/>
<path class="c" d="M 651 829 H 738 V 802" stroke="#29a3c9" stroke-width="2" marker-end="url(#aC)"/>
<path class="c" d="M 1231 800 V 811 H 1621 V 800 M 1506 811 V 818" stroke="#222" stroke-width="2.5"/>
<path class="c" d="M 810 800 V 808 H 1502 V 800 M 1231 808 V 818" stroke="#b0141a" stroke-width="3.5"/>
<path class="blk" d="M 281 859 V 870 H 601 V 861 M 442 870 V 879"/>
<path class="blk" d="M 595 903 V 916 H 1265 V 903 M 939 916 V 933"/>
<path class="blk" d="M 1202 859 V 870 H 1542 V 859 M 1373 870 V 880"/>
</g>
</svg>
